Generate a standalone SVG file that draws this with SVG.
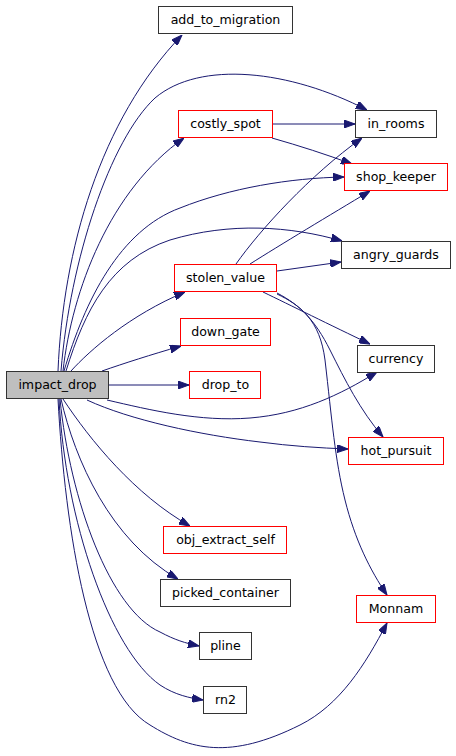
<svg xmlns="http://www.w3.org/2000/svg" width="456" height="756" viewBox="0 0 456 756">
<defs>
<style>
.n rect{fill:#fff;stroke:#333;stroke-width:1}
.n.r rect{stroke:#f00}
.n.m rect{fill:#bfbfbf;stroke:#333}
.n text{font-family:"DejaVu Sans",sans-serif;font-size:12.6px;fill:#000;text-anchor:middle}
#edges path{fill:none;stroke:#191970;stroke-width:1;marker-end:url(#ah)}
</style>
<marker id="ah" markerUnits="userSpaceOnUse" viewBox="0 0 11 8" refX="11" refY="4" markerWidth="11" markerHeight="8" orient="auto">
<path d="M0,0 L11,4 L0,8 z" fill="#191970" stroke="#191970"/>
</marker>
</defs>
<rect width="456" height="756" fill="#fff"/>
<g id="edges">
<path d="M58,371 C63,250 100,120 182,35"/>
<path d="M61,371 C70,260 110,140 155,98 C200,60 290,70 367,110"/>
<path d="M63,371 C72,290 110,190 184,138"/>
<path d="M64,371 C85,300 120,230 180,208 C230,188 290,178 344,177"/>
<path d="M66,371 C85,310 110,260 170,240 C230,222 290,226 342,241"/>
<path d="M71,371 C90,350 130,315 185,292"/>
<path d="M102,371 C125,363 150,355 181,346"/>
<path d="M109,385 L189,385"/>
<path d="M107,400 C150,410 200,422 250,418 C300,414 340,395 377,372"/>
<path d="M87,400 C130,420 200,435 260,442 C290,446 320,448 348,449"/>
<path d="M63,399 C90,440 135,495 190,526"/>
<path d="M61,399 C75,460 110,540 178,579"/>
<path d="M60,399 C70,500 110,610 160,632 C175,640 185,643 199,646"/>
<path d="M59,399 C65,520 110,650 160,685 C175,695 190,698 203,700"/>
<path d="M58,399 C65,530 90,690 150,725 C190,750 230,760 300,725 C340,705 365,665 387,623"/>
<path d="M273,124 L355,124"/>
<path d="M272,138 C300,146 325,154 352,164"/>
<path d="M236,264 C260,230 310,175 362,138"/>
<path d="M250,264 C280,245 330,215 370,191"/>
<path d="M277,271 L341,262"/>
<path d="M263,292 C290,305 330,325 370,344"/>
<path d="M277,293 C300,305 315,320 330,350 C345,380 360,410 383,437"/>
<path d="M277,294 C300,305 320,320 325,360 C332,420 335,460 345,500 C355,540 370,570 387,595"/>
</g>
<g id="add_to_migration" class="n"><rect x="158.5" y="6.5" width="134" height="27"/><text x="225.5" y="24">add_to_migration</text></g>
<g id="in_rooms" class="n"><rect x="355.5" y="110.5" width="81" height="27"/><text x="396" y="128">in_rooms</text></g>
<g id="costly_spot" class="n r"><rect x="178.5" y="110.5" width="94" height="27"/><text x="225.5" y="128">costly_spot</text></g>
<g id="shop_keeper" class="n r"><rect x="344.5" y="163.5" width="103" height="27"/><text x="396" y="181">shop_keeper</text></g>
<g id="angry_guards" class="n"><rect x="341.5" y="241.5" width="109" height="27"/><text x="396" y="259">angry_guards</text></g>
<g id="stolen_value" class="n r"><rect x="174.5" y="264.5" width="102" height="27"/><text x="225.5" y="282">stolen_value</text></g>
<g id="down_gate" class="n r"><rect x="180.5" y="318.5" width="90" height="27"/><text x="225.5" y="336">down_gate</text></g>
<g id="currency" class="n"><rect x="357.5" y="345.5" width="77" height="27"/><text x="396" y="363">currency</text></g>
<g id="impact_drop" class="n m"><rect x="6.5" y="371.5" width="102" height="27"/><text x="57.5" y="389">impact_drop</text></g>
<g id="drop_to" class="n r"><rect x="189.5" y="371.5" width="71" height="27"/><text x="225.5" y="389">drop_to</text></g>
<g id="hot_pursuit" class="n r"><rect x="348.5" y="437.5" width="95" height="27"/><text x="396" y="455">hot_pursuit</text></g>
<g id="obj_extract_self" class="n r"><rect x="163.5" y="526.5" width="123" height="27"/><text x="225.5" y="544">obj_extract_self</text></g>
<g id="picked_container" class="n"><rect x="160.5" y="579.5" width="130" height="27"/><text x="225.5" y="597">picked_container</text></g>
<g id="Monnam" class="n r"><rect x="356.5" y="595.5" width="79" height="27"/><text x="396" y="613">Monnam</text></g>
<g id="pline" class="n"><rect x="199.5" y="632.5" width="52" height="27"/><text x="225.5" y="650">pline</text></g>
<g id="rn2" class="n"><rect x="203.5" y="686.5" width="43" height="27"/><text x="225.5" y="704">rn2</text></g>
</svg>
